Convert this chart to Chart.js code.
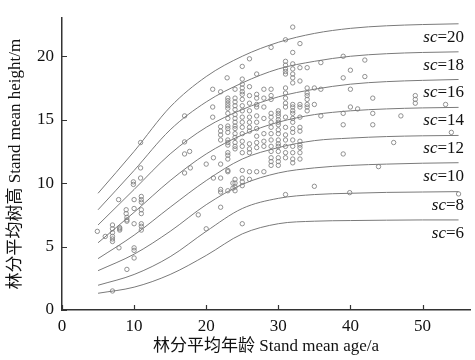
<!DOCTYPE html>
<html>
<head>
<meta charset="utf-8">
<script src="https://cdn.jsdelivr.net/npm/chart.js@4.4.0/dist/chart.umd.min.js"></script>
<style>
  html, body { margin: 0; padding: 0; background: #fff; }
  #wrap { width: 475px; height: 360px; }
</style>
</head>
<body>
<div id="wrap"><canvas id="heightChart" width="475" height="360"></canvas></div>
<script>
// Guide curves (site classes), read at these ages
const curveAges = [5, 10, 15, 20, 25, 30, 35, 40, 45, 50, 55];
const sc20 = [9.2, 12.5, 16.0, 18.4, 20.0, 21.1, 21.8, 22.2, 22.4, 22.5, 22.56];
const sc18 = [7.9, 11.0, 14.2, 16.4, 17.9, 19.0, 19.6, 20.0, 20.2, 20.3, 20.35];
const sc16 = [6.7, 9.5, 12.3, 14.4, 15.8, 16.8, 17.4, 17.8, 18.0, 18.1, 18.17];
const sc14 = [5.3, 7.7, 10.2, 12.3, 13.8, 14.8, 15.4, 15.7, 15.85, 15.93, 15.97];
const sc12 = [4.05, 5.9, 8.1, 10.2, 11.9, 12.8, 13.35, 13.55, 13.67, 13.73, 13.76];
const sc10 = [3.1, 4.4, 6.2, 8.3, 9.9, 10.8, 11.2, 11.4, 11.5, 11.57, 11.61];
const sc8 = [1.95, 2.8, 4.2, 6.2, 8.0, 8.8, 9.1, 9.2, 9.27, 9.3, 9.33];
const sc6 = [1.32, 1.8, 2.8, 4.3, 6.0, 6.8, 7.0, 7.05, 7.08, 7.1, 7.1];
const siteClasses = [20, 18, 16, 14, 12, 10, 8, 6];
const curves = [sc20, sc18, sc16, sc14, sc12, sc10, sc8, sc6];

// axis ticks
const xTicks = [0, 10, 20, 30, 40, 50];
const yTicks = [0, 5, 10, 15, 20];

// Observed plots: age / mean height
const obsAge = [
  4.9, 6, 7, 7, 7, 7, 7, 7, 7,
  7.85, 8, 8, 8, 7.9,
  8.9, 8.9, 9, 9, 9, 9,
  9.9, 9.9, 10, 10, 10, 10, 10, 10,
  10.9, 10.9, 10.9, 11, 11, 11, 11, 11, 11, 11, 11,
  17, 17, 17, 17.7, 17, 17.8,
  18.9, 20, 20, 21, 21, 20.9, 20.9, 20.9,
  22, 22.9, 22, 22, 22, 22, 22, 22, 22, 22, 22,
  23, 23, 23, 23, 23, 23, 23, 23, 23, 23, 23, 23, 23, 23, 23, 23, 23, 23, 23,
  24, 24, 24, 24, 24, 24, 24, 24, 24, 24, 24, 24, 24, 24, 24, 24, 24, 24, 24, 23.7, 23.7,
  25, 25, 25, 25, 25, 25, 25, 25, 25, 25, 25, 25, 25, 25, 25, 25, 25, 25, 25, 25, 25,
  26, 26, 26, 26, 26, 26, 26, 26, 26, 26, 26, 26, 26, 26,
  27, 27, 27, 27, 27, 27, 27, 27, 27, 27, 27, 27,
  28, 28, 28, 28, 28, 28, 28, 28,
  29, 29, 29, 29, 29, 29, 29, 29, 29, 29, 29, 29, 29, 29, 29,
  30, 30, 30, 30, 30, 30, 30, 30, 30, 30, 30, 30, 30, 30, 30,
  31, 31, 31, 31, 31, 31, 31, 31, 31, 31, 31, 31, 31, 31, 31, 31, 31, 31, 31,
  32, 32, 32, 32, 32, 32, 32, 32, 32, 32, 32, 32, 32, 32, 32, 32, 32, 32, 32, 32,
  33, 33, 33, 33, 33, 33, 33, 33, 33, 33, 33, 33, 33,
  34, 34, 34, 34, 34, 34, 34, 34,
  35, 35, 35, 35.9, 35.9, 35.9, 39, 39, 39, 39, 39, 40, 40, 40, 39.9, 41,
  42, 42, 43.1, 43.1, 43.1, 43.9, 46, 47, 49, 49, 49, 53.2, 54, 55
];
const obsHeight = [
  6.2, 5.8, 6.7, 6.4, 6.1, 5.8, 5.6, 5.4, 1.5,
  8.7, 6.5, 6.4, 6.3, 4.9,
  7.9, 7.6, 7.3, 7.1, 7.0, 3.2,
  10.1, 9.9, 8.7, 8.0, 6.8, 4.9, 4.7, 4.1,
  13.2, 11.2, 10.4, 8.95, 8.7, 8.5, 7.9, 7.6, 6.8, 6.6, 6.3,
  15.3, 13.25, 12.3, 12.5, 10.8, 11.2,
  7.5, 6.4, 11.5, 12.0, 10.4, 17.4, 16.0, 15.2,
  17.2, 18.3, 14.45, 14.1, 13.8, 13.4, 11.5, 10.4, 9.5, 9.3, 8.1,
  16.7, 16.5, 16.3, 16.1, 15.9, 15.5, 15.1, 14.5, 14.3, 14.0, 13.4, 13.2, 13.0, 12.4, 12.2, 11.9, 11.0, 10.9, 9.4,
  17.4, 16.7, 16.4, 16.1, 15.8, 15.4, 15.1, 14.8, 14.5, 14.3, 13.9, 13.6, 13.2, 12.9, 12.7, 10.3, 10.0, 9.7, 9.4, 9.6, 10.0,
  19.2, 18.2, 17.8, 17.5, 17.2, 17.0, 16.6, 16.1, 15.7, 15.2, 14.8, 14.4, 13.9, 13.3, 12.9, 12.4, 11.0, 10.4, 10.1, 9.8, 6.8,
  19.8, 17.6, 16.9, 16.3, 15.7, 15.2, 14.8, 14.4, 14.1, 13.1, 12.7, 12.4, 10.9, 10.3,
  18.6, 17.0, 16.7, 16.2, 16.0, 15.3, 14.8, 14.3, 13.7, 13.2, 12.8, 10.9,
  17.4, 16.7, 16.0, 15.1, 13.9, 13.3, 12.9, 10.9,
  20.7, 17.4, 16.9, 16.6, 15.5, 15.2, 14.8, 14.4, 13.9, 13.4, 12.9, 12.5, 12.0, 11.7, 11.4,
  15.7, 15.5, 15.3, 15.0, 14.8, 14.6, 14.2, 13.9, 13.4, 13.1, 12.9, 12.5, 12.0, 11.7, 11.4,
  21.3, 19.6, 19.3, 19.0, 18.8, 18.6, 17.5, 17.1, 16.7, 16.3, 16.0, 15.2, 14.4, 13.8, 13.4, 12.9, 12.4, 12.0, 9.1,
  22.3, 20.3, 19.4, 19.0, 18.6, 18.3, 17.9, 16.2, 16.0, 15.7, 15.5, 15.1, 14.8, 14.3, 14.0, 13.4, 12.9, 12.4, 11.9, 11.6,
  21.0, 19.1, 18.05, 16.2, 16.0, 15.2, 14.4, 14.1, 13.3, 13.0, 12.8, 12.4, 11.9,
  19.1, 17.5, 17.1, 16.9, 16.6, 16.2, 16.0, 15.7,
  17.5, 16.2, 9.75, 19.5, 17.4, 15.3, 20.0, 18.3, 15.5, 14.6, 12.3, 18.9, 17.4, 16.0, 9.25, 15.85,
  19.7, 18.4, 16.7, 15.5, 14.6, 11.3, 13.2, 15.3, 16.9, 16.6, 16.3, 16.2, 14.0, 9.15
];

const serif = "'Liberation Serif', 'Noto Sans CJK SC', serif";

const datasets = curves.map((vals, i) => ({
  type: "line",
  sc: siteClasses[i],
  data: curveAges.map((a, j) => ({ x: a, y: vals[j] })),
  borderColor: "#7a7a7a",
  borderWidth: 1,
  pointRadius: 0,
  fill: false,
  cubicInterpolationMode: "monotone"
}));

datasets.push({
  type: "scatter",
  data: obsAge.map((a, i) => ({ x: a, y: obsHeight[i] })),
  pointStyle: "circle",
  pointRadius: 2.2,
  pointBorderWidth: 0.9,
  pointBorderColor: "#858585",
  pointBackgroundColor: "rgba(255,255,255,0)"
});

// inward tick marks on both axes
const tickMarks = {
  id: "tickMarks",
  afterDraw(chart) {
    const { ctx, chartArea, scales } = chart;
    ctx.save();
    ctx.strokeStyle = "#333";
    ctx.lineWidth = 1.2;
    ctx.beginPath();
    scales.x.ticks.forEach(t => {
      const px = Math.round(scales.x.getPixelForValue(t.value)) + 0.5;
      ctx.moveTo(px, chartArea.bottom);
      ctx.lineTo(px, chartArea.bottom - 5);
    });
    scales.y.ticks.forEach(t => {
      const py = Math.round(scales.y.getPixelForValue(t.value)) + 0.5;
      ctx.moveTo(chartArea.left, py);
      ctx.lineTo(chartArea.left + 5, py);
    });
    ctx.stroke();
    ctx.restore();
  }
};

// "sc=20" labels under the right end of each curve
const curveLabels = {
  id: "curveLabels",
  afterDatasetsDraw(chart) {
    const ctx = chart.ctx;
    ctx.save();
    ctx.fillStyle = "#111";
    ctx.textBaseline = "alphabetic";
    chart.data.datasets.forEach((ds, i) => {
      if (ds.sc === undefined) return;
      const pts = chart.getDatasetMeta(i).data;
      const last = pts[pts.length - 1];
      const right = chart.chartArea.right - 6;
      const y = last.y + 18;
      ctx.font = "17px " + serif;
      const num = "=" + ds.sc;
      const numW = ctx.measureText(num).width;
      ctx.fillText(num, right - numW, y);
      ctx.font = "italic 17px " + serif;
      const scW = ctx.measureText("sc").width;
      ctx.fillText("sc", right - numW - scW, y);
    });
    ctx.restore();
  }
};

new Chart(document.getElementById("heightChart"), {
  data: { datasets },
  plugins: [tickMarks, curveLabels],
  options: {
    responsive: false,
    animation: false,
    layout: { padding: { top: 7, right: 0, left: 0, bottom: 0 } },
    plugins: { legend: { display: false }, tooltip: { enabled: false } },
    scales: {
      x: {
        type: "linear",
        min: 0,
        max: 56.6,
        afterBuildTicks: s => { s.ticks = xTicks.map(v => ({ value: v })); },
        afterFit: s => { s.height = 50; },
        ticks: { padding: 6, color: "#111", font: { family: serif, size: 17 } },
        grid: { display: true, drawOnChartArea: false, drawTicks: false },
        border: { color: "#333", width: 1.5 },
        title: {
          display: true,
          text: "林分平均年龄 Stand mean age/a",
          color: "#111",
          font: { family: serif, size: 17 },
          padding: { top: 0, bottom: 3 }
        }
      },
      y: {
        type: "linear",
        min: 0,
        max: 23,
        afterBuildTicks: s => { s.ticks = yTicks.map(v => ({ value: v })); },
        afterFit: s => { s.width = 62; },
        ticks: { padding: 8, color: "#111", font: { family: serif, size: 17 } },
        grid: { display: true, drawOnChartArea: false, drawTicks: false },
        border: { color: "#333", width: 1.5 },
        title: {
          display: true,
          text: "林分平均树高 Stand mean height/m",
          color: "#111",
          font: { family: serif, size: 17 },
          padding: { top: 5, bottom: 0 }
        }
      }
    }
  }
});
</script>
</body>
</html>
